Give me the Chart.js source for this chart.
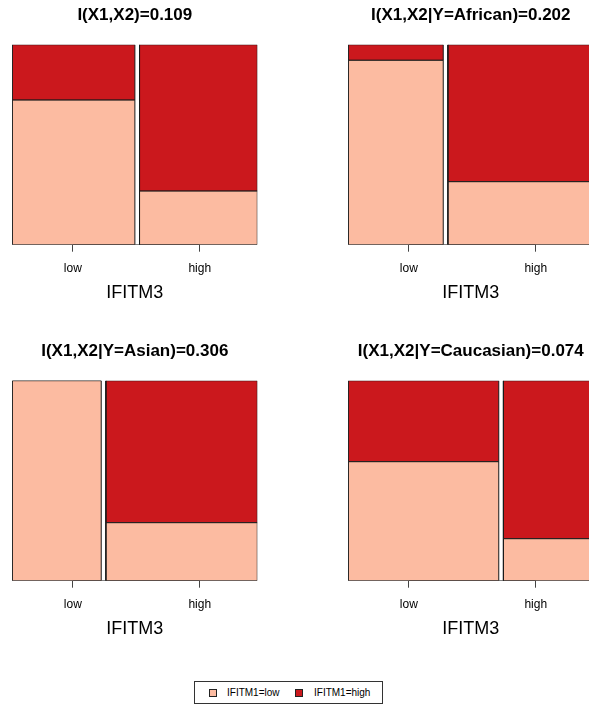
<!DOCTYPE html>
<html>
<head>
<meta charset="utf-8">
<script src="https://cdn.jsdelivr.net/npm/chart.js@4.4.0/dist/chart.umd.min.js"></script>
<style>
  html, body { margin: 0; padding: 0; background: #fff; overflow: hidden; }
  body { width: 589px; height: 709px; position: relative; font-family: "Liberation Sans", Arial, sans-serif; }
  .panel { position: absolute; width: 336px; height: 336px; }
  #legend { position: absolute; left: 194px; top: 681px; width: 189px; height: 23px; border: 1px solid #333; box-sizing: border-box; }
  #legend span { position: absolute; font-size: 10px; line-height: 12px; top: 5px; color: #000; }
  #legend i { position: absolute; width: 8px; height: 8px; top: 7px; border: 1px solid #222; box-sizing: border-box; }
</style>
</head>
<body>
<div class="panel" style="left:0;top:0"><canvas id="p0" width="336" height="336"></canvas></div>
<div class="panel" style="left:336px;top:0"><canvas id="p1" width="336" height="336"></canvas></div>
<div class="panel" style="left:0;top:336px"><canvas id="p2" width="336" height="336"></canvas></div>
<div class="panel" style="left:336px;top:336px"><canvas id="p3" width="336" height="336"></canvas></div>
<div id="legend">
  <i style="left:14px;background:#FCBBA1"></i><span style="left:32px">IFITM1=low</span>
  <i style="left:100px;background:#CB181D"></i><span style="left:119px">IFITM1=high</span>
</div>
<script>
  // IFITM3 levels (columns) and IFITM1 levels (stacked cells)
  const columns = ["low", "high"];
  const rowLevels = ["IFITM1=low", "IFITM1=high"];
  const panelTitles = [
    "I(X1,X2)=0.109",
    "I(X1,X2|Y=African)=0.202",
    "I(X1,X2|Y=Asian)=0.306",
    "I(X1,X2|Y=Caucasian)=0.074",
  ];
  // share of samples with IFITM3=low (width of left column)
  const lowColumnShare = [0.51, 0.395, 0.37, 0.626];
  // share of IFITM1=high inside each column
  const highShareInLow = [0.277, 0.078, 0.0, 0.405];
  const highShareInHigh = [0.732, 0.685, 0.71, 0.79];
  // where R put the axis ticks
  const tickPos = [0.247, 0.765];

  const colors = ["#FCBBA1", "#CB181D"];
  const fontFamily = '"Liberation Sans", Arial, sans-serif';
  const gap = 0.019;

  function rect(x0, x1, y0, y1, color) {
    return {
      data: [
        { x: x0, y: y0 }, { x: x1, y: y0 }, { x: x1, y: y1 },
        { x: x0, y: y1 }, { x: x0, y: y0 },
      ],
      fill: "shape",
      backgroundColor: color,
      borderColor: "#1a1a1a",
      borderWidth: 1,
      pointRadius: 0,
      tension: 0,
    };
  }

  for (let i = 0; i < 4; i++) {
    const s = lowColumnShare[i];
    const edges = [[0, s * (1 - gap)], [s * (1 - gap) + gap, 1]];
    const highs = [highShareInLow[i], highShareInHigh[i]];
    const datasets = [];
    edges.forEach((e, j) => {
      const split = 1 - highs[j];
      datasets.push(rect(e[0], e[1], 0, split, colors[0]));
      datasets.push(rect(e[0], e[1], split, 1, colors[1]));
    });
    // axis line between the ticks
    datasets.push({
      data: [{ x: tickPos[0], y: 0 }, { x: tickPos[1], y: 0 }],
      borderColor: "#333",
      borderWidth: 1,
      pointRadius: 0,
      fill: false,
    });

    new Chart(document.getElementById("p" + i), {
      type: "line",
      data: { datasets: datasets },
      options: {
        responsive: false,
        animation: false,
        events: [],
        layout: { padding: { left: 12.3, right: 78.7, top: 0, bottom: 0 } },
        plugins: {
          legend: { display: false },
          tooltip: { enabled: false },
          title: {
            display: true,
            fullSize: false,
            text: panelTitles[i],
            color: "#000",
            font: { family: fontFamily, size: 17, weight: "bold" },
            padding: { top: 5.1, bottom: 19.2 },
          },
        },
        scales: {
          x: {
            type: "linear",
            min: 0,
            max: 1,
            afterBuildTicks: (sc) => { sc.ticks = tickPos.map((v) => ({ value: v })); },
            afterFit: (sc) => { sc.height = 91.3; },
            grid: { drawOnChartArea: false, drawTicks: true, tickLength: 7, color: "#444" },
            border: { display: false },
            ticks: {
              callback: (v, idx) => columns[idx],
              autoSkip: false,
              maxRotation: 0,
              color: "#000",
              padding: 9.5,
              font: { family: fontFamily, size: 12 },
            },
            title: {
              display: true,
              text: "IFITM3",
              color: "#000",
              font: { family: fontFamily, size: 18 },
              padding: { top: 0, bottom: 32.2 },
            },
          },
          y: { display: false, min: 0, max: 1 },
        },
      },
    });
  }
</script>
</body>
</html>
